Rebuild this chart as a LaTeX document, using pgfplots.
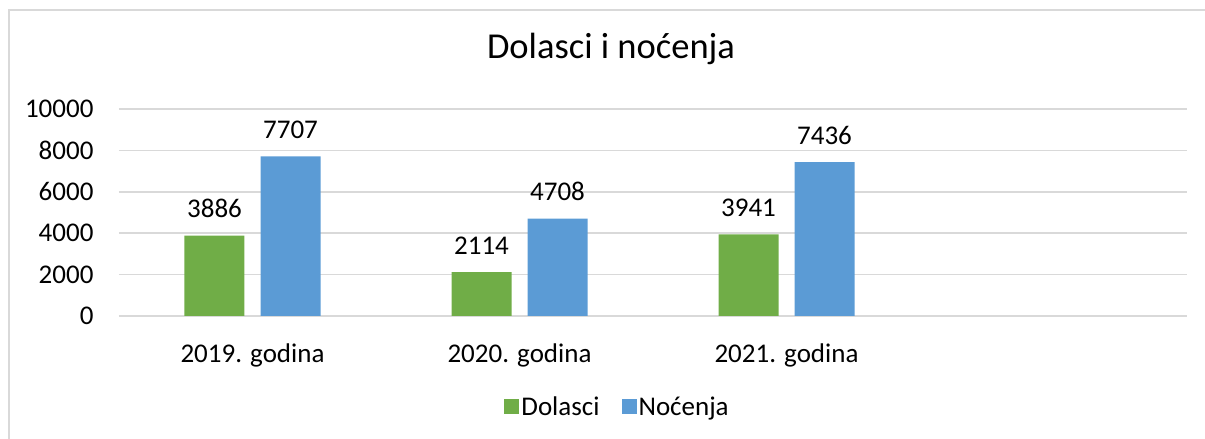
\documentclass[border=0pt]{standalone}
\usepackage{fontspec}
\setmainfont{Carlito}
\usepackage{pgfplots}
\pgfplotsset{compat=1.18}
\definecolor{cgreen}{HTML}{70AD47}
\definecolor{cblue}{HTML}{5B9BD5}
\definecolor{cgrid}{HTML}{D9D9D9}
\begin{document}
\begin{tikzpicture}[x=1pt,y=1pt]
\useasboundingbox (0,0) rectangle (1205,439);
\draw[cgrid, line width=1.6pt] (9,-5) -- (9,429) -- (1215,429);
\begin{axis}[
  at={(119pt,123pt)}, anchor=south west,
  scale only axis, width=1068pt, height=207pt,
  font=\fontsize{27}{32}\selectfont,
  ybar, bar width=60pt,
  xmin=-0.5, xmax=3.5, ymin=0, ymax=10000,
  xtick={0,1,2}, xticklabels={2019. godina,2020. godina,2021. godina},
  ytick={0,2000,4000,6000,8000,10000},
  scaled y ticks=false,
  /pgf/number format/assume math mode=true,
  /pgf/number format/1000 sep={},
  axis line style={draw=none},
  tick style={draw=none},
  ymajorgrids, grid style={cgrid, line width=1.6pt},
  yticklabel style={anchor=east, xshift=-22pt},
  xticklabel style={anchor=base, yshift=-42pt},
  nodes near coords,
  nodes near coords style={font=\fontsize{27}{32}\selectfont, anchor=base, yshift=18pt, /pgf/number format/1000 sep={}},
  title={Dolasci i noćenja},
  title style={font=\fontsize{36.5}{42}\selectfont, anchor=base, at={(0.4607,1)}, yshift=44pt},
  legend columns=2,
  legend style={draw=none, at={(0.4668,-0.4396)}, anchor=center, font=\fontsize{27}{32}\selectfont,
    /tikz/every even column/.append style={column sep=20pt}},
  legend image code/.code={\fill[#1] (0pt,-7.5pt) rectangle (15pt,7.5pt);},
]
\addplot[fill=cgreen, draw=none, bar shift=-38pt] coordinates {(0,3886) (1,2114) (2,3941)};
\addplot[fill=cblue, draw=none, bar shift=38pt] coordinates {(0,7707) (1,4708) (2,7436)};
\legend{Dolasci,Noćenja}
\end{axis}
\end{tikzpicture}
\end{document}
